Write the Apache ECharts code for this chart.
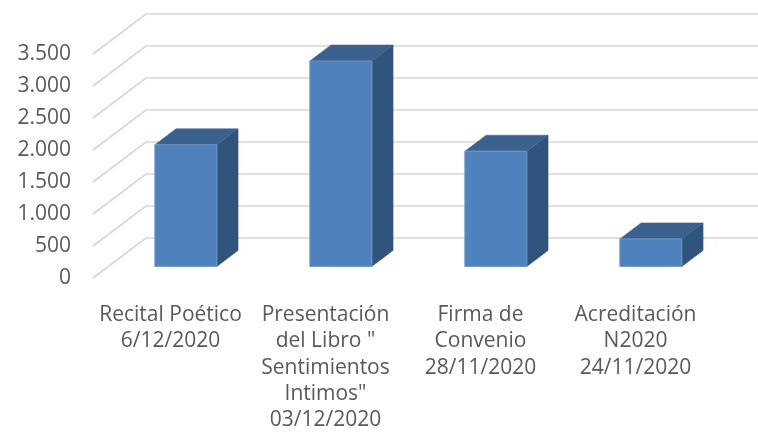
<!DOCTYPE html>
<html>
<head>
<meta charset="utf-8">
<script src="https://cdn.jsdelivr.net/npm/echarts@6/dist/echarts.min.js"></script>
<style>
  html, body { margin: 0; padding: 0; background: #ffffff; }
  #chart { width: 758px; height: 437px; }
</style>
</head>
<body>
<div id="chart"></div>
<script>
// Event categories (x axis)
const categories = [
  'Recital Poético\n6/12/2020',
  'Presentación\ndel Libro "\nSentimientos\nIntimos"\n03/12/2020',
  'Firma de\nConvenio\n28/11/2020',
  'Acreditación\nN2020\n24/11/2020'
];
// Attendance per event
const values = [1900, 3210, 1800, 430];
// Value axis ticks
const yTicks = [0, 500, 1000, 1500, 2000, 2500, 3000, 3500];

// Oblique depth of the floor (px): back wall sits up and to the right
const DEPTH_X = 53;
const DEPTH_Y = 40;
// Bars occupy this slice of the floor depth
const BAR_FRONT = 0.29;
const BAR_BACK = 0.69;
const BAR_WIDTH = 0.4;

const chart = echarts.init(document.getElementById('chart'), null, { renderer: 'canvas' });

function fmt(v) {
  return String(v).replace(/\B(?=(\d{3})+(?!\d))/g, '.');
}

const gridColor = '#d6d6d6';

const option = {
  backgroundColor: '#ffffff',
  animation: false,
  grid: { left: 93, right: 45, top: 54, bottom: 159, containLabel: false },
  xAxis: {
    type: 'category',
    data: categories,
    axisLine: { show: false },
    axisTick: { show: false },
    axisLabel: {
      interval: 0,
      margin: 24,
      color: '#595959',
      fontFamily: 'Open Sans',
      fontSize: 21,
      lineHeight: 26.3,
      align: 'center'
    }
  },
  yAxis: {
    type: 'value',
    min: 0,
    max: 3500,
    interval: 500,
    axisLine: { show: false },
    axisTick: { show: false },
    splitLine: { show: false },
    axisLabel: {
      margin: 22,
      color: '#595959',
      fontFamily: 'Open Sans',
      fontSize: 21,
      padding: [12, 0, 0, 0],
      formatter: fmt
    }
  },
  series: [
    {
      // back wall lines and floor-side diagonals
      type: 'custom',
      z: 1,
      silent: true,
      clip: false,
      encode: { x: 0, y: 1 },
      data: yTicks.map(v => [0, v]),
      renderItem: function (params, api) {
        const cs = params.coordSys;
        const y = api.coord([0, api.value(1)])[1];
        const left = cs.x;
        const right = cs.x + cs.width;
        return {
          type: 'polyline',
          shape: {
            points: [
              [left, y],
              [left + DEPTH_X, y - DEPTH_Y],
              [right + DEPTH_X, y - DEPTH_Y]
            ]
          },
          style: { stroke: gridColor, lineWidth: 1.6, fill: null }
        };
      }
    },
    {
      // 3D columns
      type: 'custom',
      z: 2,
      clip: false,
      encode: { x: 0, y: 1 },
      data: values.map((v, i) => [i, v]),
      renderItem: function (params, api) {
        const i = api.value(0);
        const v = api.value(1);
        const top = api.coord([i, v]);
        const base = api.coord([i, 0]);
        const band = api.size([1, 0])[0];
        const w = band * BAR_WIDTH;
        const fx = BAR_FRONT * DEPTH_X;
        const fy = BAR_FRONT * DEPTH_Y;
        const sx = (BAR_BACK - BAR_FRONT) * DEPTH_X;
        const sy = (BAR_BACK - BAR_FRONT) * DEPTH_Y;
        const x0 = top[0] - w / 2 + fx;
        const x1 = x0 + w;
        const yT = top[1] - fy;
        const yB = base[1] - fy;
        return {
          type: 'group',
          children: [
            {
              type: 'polygon',
              shape: { points: [[x1, yT], [x1 + sx, yT - sy], [x1 + sx, yB - sy], [x1, yB]] },
              style: { fill: '#31547d', stroke: '#31547d', lineWidth: 0.5 }
            },
            {
              type: 'polygon',
              shape: { points: [[x0, yT], [x1, yT], [x1 + sx, yT - sy], [x0 + sx, yT - sy]] },
              style: { fill: '#3b618f', stroke: '#3b618f', lineWidth: 0.5 }
            },
            {
              type: 'rect',
              shape: { x: x0, y: yT, width: w, height: yB - yT },
              style: { fill: '#4f81bd', stroke: '#6d95c8', lineWidth: 1 }
            }
          ]
        };
      }
    }
  ]
};

chart.setOption(option);
</script>
</body>
</html>
